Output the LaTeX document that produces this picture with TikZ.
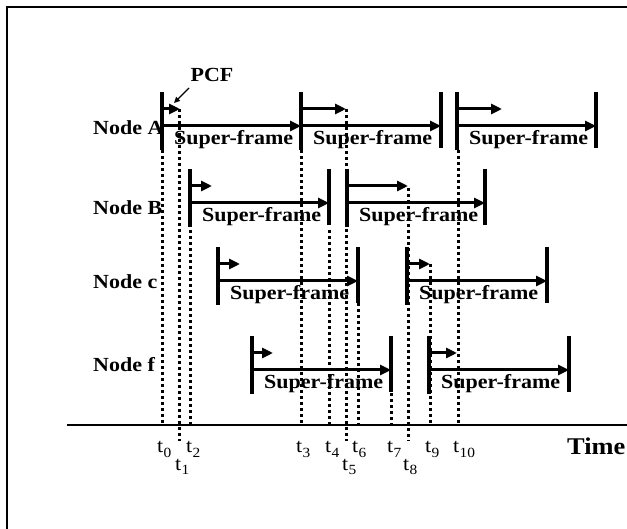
\documentclass[tikz,border=0pt]{standalone}
\usepackage{fontspec}
\setmainfont{Liberation Serif}
\newfontfamily\wfont{Liberation Serif}[FakeStretch=1.1]
\usetikzlibrary{arrows.meta}
\tikzset{
  bar/.style={line width=3.4pt},
  arr/.style={line width=3pt,-{Triangle[length=11pt,width=10pt]}},
  dotl/.style={line width=3pt,dash pattern=on 3pt off 3pt},
  sf/.style={inner sep=0pt,anchor=west,font=\wfont\fontsize{20}{20}\selectfont\bfseries},
  nlab/.style={inner sep=0pt,anchor=base west,font=\wfont\fontsize{20}{20}\selectfont\bfseries},
  tlab/.style={inner sep=0pt,anchor=base west,font=\wfont\fontsize{20}{20}\selectfont}
}
\newcommand\tsub[1]{t\kern0.3pt\raisebox{-4.5pt}{\fontsize{14}{14}\selectfont #1}}
\begin{document}
\begin{tikzpicture}[x=1pt,y=-1pt]
\useasboundingbox (0,0) rectangle (627,529);
% frame
\coordinate (fr0) at (7,545);
\coordinate (fr1) at (7,7);
\coordinate (fr2) at (645,7);
\draw[line width=2.4pt] (fr0) -- (fr1) -- (fr2);
% dotted time marks
\foreach \n/\x/\a/\b in {0/162/150/425, 1/179/109/441, 2/190/230/425, 3/301/150/425,
  4/329/230/425, 5/346/109/441, 6/358/303/425, 7/391/393/425, 8/408/188/441,
  9/430/264/425, 10/458/150/425}{
  \coordinate (d\n a) at (\x,\a);
  \coordinate (d\n b) at (\x,\b);
  \draw[dotl] (d\n a) -- (d\n b);
}
% time axis
\coordinate (ax0) at (67,425);
\coordinate (ax1) at (640,425);
\draw[line width=2.6pt] (ax0) -- (ax1);
% segments
\foreach \n/\s/\m/\e/\y in {a1/162/180/301/126, a2/301/346/441/126, a3/457/502/596/126,
  b1/190/212/329/203, b2/347/408/485/203, c1/218/240/358/281, c2/407/430/547/281,
  f1/252/273/391/370, f2/429/457/569/370}{
  \coordinate (\n s) at (\s,\y);
  \coordinate (\n e) at (\e,\y);
  \coordinate (\n st) at (\s,\y-34);
  \coordinate (\n sb) at (\s,\y+24);
  \coordinate (\n et) at (\e,\y-34);
  \coordinate (\n eb) at (\e,\y+22);
  \coordinate (\n ms) at (\s,\y-17);
  \coordinate (\n me) at (\m,\y-17);
  \draw[bar] (\n st) -- (\n sb);
  \draw[bar] (\n et) -- (\n eb);
  \draw[arr] (\n s) -- (\n e);
  \draw[arr] (\n ms) -- (\n me);
  \node[sf] (\n lab) at (\s+12,\y+14) {Super-frame};
}
% node labels
\node[nlab] (nA) at (93,135) {Node A};
\node[nlab] (nB) at (93,215) {Node B};
\node[nlab] (nc) at (93,289) {Node c};
\node[nlab] (nf) at (93,372) {Node f};
% PCF
\node[inner sep=0pt,anchor=base,font=\wfont\fontsize{20}{20}\selectfont\bfseries] (pcf) at (212,82) {PCF};
\coordinate (pcfa) at (189,88);
\coordinate (pcfb) at (174,103);
\draw[line width=1.4pt,-{Triangle[length=6pt,width=5.5pt]}] (pcfa) -- (pcfb);
% time labels
\foreach \n/\x/\y in {0/157/453, 1/175/470, 2/186/453, 3/296/453, 4/325/453, 5/342/470,
  6/352/453, 7/387/453, 8/403/470, 9/425/453, 10/453/453}{
  \node[tlab] (tl\n) at (\x,\y) {\tsub{\n}};
}
\node[nlab,font=\wfont\fontsize{24}{24}\selectfont\bfseries] (time) at (567,454) {Time};
\end{tikzpicture}
\end{document}
